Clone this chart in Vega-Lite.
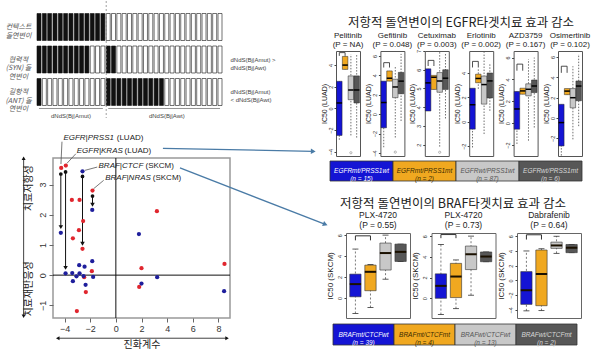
{
"$schema": "https://vega.github.io/schema/vega-lite/v6.json",
"background": "white",
"padding": {"left": 4, "top": 0, "right": 2, "bottom": 2},
"bounds": "flush",
"spacing": 293,
"resolve": {"scale": {"color": "independent", "fill": "independent"}},
"config": {
  "view": {"stroke": null},
  "font": "Liberation Sans",
  "axis": {"grid": false, "domain": false, "labelFont": "Liberation Sans", "titleFont": "Liberation Sans", "titleFontWeight": "normal", "labelColor": "#333", "tickColor": "#444", "titleColor": "#222", "labelOverlap": false, "labelFlush": false},
  "title": {"font": "Noto Sans CJK KR", "fontWeight": "normal", "fontSize": 12.5, "color": "#222"}
},
"datasets": {
  "cells": [
    {"r":"ctx","i":0,"s":"m"},{"r":"ctx","i":1,"s":"m"},{"r":"ctx","i":2,"s":"m"},{"r":"ctx","i":3,"s":"m"},{"r":"ctx","i":4,"s":"m"},{"r":"ctx","i":5,"s":"m"},{"r":"ctx","i":6,"s":"m"},{"r":"ctx","i":7,"s":"m"},{"r":"ctx","i":8,"s":"m"},{"r":"ctx","i":9,"s":"m"},{"r":"ctx","i":10,"s":"m"},{"r":"ctx","i":11,"s":"m"},{"r":"ctx","i":12,"s":"m"},
    {"r":"ctx","i":13,"s":"w"},{"r":"ctx","i":14,"s":"w"},{"r":"ctx","i":15,"s":"w"},{"r":"ctx","i":16,"s":"w"},{"r":"ctx","i":17,"s":"w"},{"r":"ctx","i":18,"s":"w"},{"r":"ctx","i":19,"s":"w"},{"r":"ctx","i":20,"s":"w"},{"r":"ctx","i":21,"s":"w"},{"r":"ctx","i":22,"s":"w"},{"r":"ctx","i":23,"s":"w"},{"r":"ctx","i":24,"s":"w"},{"r":"ctx","i":25,"s":"w"},{"r":"ctx","i":26,"s":"w"},{"r":"ctx","i":27,"s":"w"},{"r":"ctx","i":28,"s":"w"},{"r":"ctx","i":29,"s":"w"},{"r":"ctx","i":30,"s":"w"},{"r":"ctx","i":31,"s":"w"},{"r":"ctx","i":32,"s":"w"},{"r":"ctx","i":33,"s":"w"},{"r":"ctx","i":34,"s":"w"},
    {"r":"syn","i":0,"s":"m"},{"r":"syn","i":1,"s":"m"},{"r":"syn","i":2,"s":"m"},{"r":"syn","i":3,"s":"m"},{"r":"syn","i":4,"s":"m"},{"r":"syn","i":5,"s":"m"},{"r":"syn","i":6,"s":"m"},{"r":"syn","i":7,"s":"m"},{"r":"syn","i":8,"s":"m"},{"r":"syn","i":9,"s":"m"},
    {"r":"syn","i":10,"s":"w"},{"r":"syn","i":11,"s":"w"},{"r":"syn","i":12,"s":"w"},{"r":"syn","i":13,"s":"m"},{"r":"syn","i":14,"s":"m"},
    {"r":"syn","i":15,"s":"w"},{"r":"syn","i":16,"s":"w"},{"r":"syn","i":17,"s":"w"},{"r":"syn","i":18,"s":"w"},{"r":"syn","i":19,"s":"w"},{"r":"syn","i":20,"s":"w"},{"r":"syn","i":21,"s":"w"},{"r":"syn","i":22,"s":"w"},{"r":"syn","i":23,"s":"w"},{"r":"syn","i":24,"s":"w"},{"r":"syn","i":25,"s":"w"},{"r":"syn","i":26,"s":"w"},{"r":"syn","i":27,"s":"w"},{"r":"syn","i":28,"s":"w"},{"r":"syn","i":29,"s":"w"},{"r":"syn","i":30,"s":"w"},{"r":"syn","i":31,"s":"w"},{"r":"syn","i":32,"s":"w"},{"r":"syn","i":33,"s":"w"},{"r":"syn","i":34,"s":"w"},
    {"r":"ant","i":0,"s":"m"},{"r":"ant","i":1,"s":"w"},{"r":"ant","i":2,"s":"w"},{"r":"ant","i":3,"s":"w"},{"r":"ant","i":4,"s":"w"},{"r":"ant","i":5,"s":"w"},{"r":"ant","i":6,"s":"w"},{"r":"ant","i":7,"s":"w"},{"r":"ant","i":8,"s":"w"},{"r":"ant","i":9,"s":"w"},{"r":"ant","i":10,"s":"w"},{"r":"ant","i":11,"s":"w"},{"r":"ant","i":12,"s":"w"},
    {"r":"ant","i":13,"s":"m"},{"r":"ant","i":14,"s":"m"},{"r":"ant","i":15,"s":"m"},{"r":"ant","i":16,"s":"m"},{"r":"ant","i":17,"s":"m"},{"r":"ant","i":18,"s":"m"},{"r":"ant","i":19,"s":"m"},{"r":"ant","i":20,"s":"m"},{"r":"ant","i":21,"s":"m"},{"r":"ant","i":22,"s":"m"},{"r":"ant","i":23,"s":"m"},
    {"r":"ant","i":24,"s":"w"},{"r":"ant","i":25,"s":"w"},{"r":"ant","i":26,"s":"w"},{"r":"ant","i":27,"s":"w"},{"r":"ant","i":28,"s":"w"},{"r":"ant","i":29,"s":"w"},{"r":"ant","i":30,"s":"w"},{"r":"ant","i":31,"s":"w"},{"r":"ant","i":32,"s":"w"},{"r":"ant","i":33,"s":"w"},{"r":"ant","i":34,"s":"w"}
  ],
  "div": [{"i": 13}],
  "brace": [{"r":"ant","a":0,"b":12,"c":6,"lab":"dNdS(Bj|Amut)"},{"r":"ant","a":13,"b":34,"c":24,"lab":"dNdS(Bj|Awt)"}],
  "pts": [
    {"x":-4.26,"y":3.55,"c":"r"},{"x":-3.9,"y":3.63,"c":"r"},{"x":-3.43,"y":2.49,"c":"r"},{"x":-2.83,"y":2.49,"c":"r"},{"x":-3.35,"y":1.22,"c":"r"},{"x":-2.88,"y":1.49,"c":"r"},{"x":-2.55,"y":1.79,"c":"r"},{"x":-2.6,"y":0.87,"c":"r"},{"x":-1.82,"y":2.8,"c":"r"},{"x":-1.87,"y":0.13,"c":"r"},{"x":-2.47,"y":-0.07,"c":"r"},{"x":-2.34,"y":-0.56,"c":"r"},{"x":-3.04,"y":-1.19,"c":"r"},{"x":3.2,"y":2.12,"c":"r"},{"x":2.0,"y":0.23,"c":"r"},{"x":1.82,"y":-0.39,"c":"r"},{"x":8.47,"y":0.37,"c":"r"},
    {"x":-4.29,"y":1.4,"c":"b"},{"x":-3.92,"y":0.06,"c":"b"},{"x":-3.4,"y":0.07,"c":"b"},{"x":-3.35,"y":-0.2,"c":"b"},{"x":-3.07,"y":-0.04,"c":"b"},{"x":-2.86,"y":0.33,"c":"b"},{"x":-2.83,"y":0.06,"c":"b"},{"x":-2.44,"y":0.28,"c":"b"},{"x":-2.36,"y":-0.32,"c":"b"},{"x":-2.52,"y":-0.03,"c":"b"},{"x":-2.6,"y":3.44,"c":"b"},{"x":-1.84,"y":0.46,"c":"b"},{"x":-1.77,"y":-0.06,"c":"b"},{"x":-1.84,"y":2.16,"c":"b"},{"x":1.8,"y":1.36,"c":"b"},{"x":2.0,"y":-0.28,"c":"b"},{"x":3.22,"y":-0.07,"c":"b"},{"x":8.44,"y":-0.53,"c":"b"}
  ],
  "zero": [{"v": 0}],
  "varr": [{"x":-4.29,"t":3.35,"b":1.59},{"x":-3.92,"t":3.42,"b":0.24},{"x":-2.6,"t":3.27,"b":1.04},{"x":-1.82,"t":2.62,"b":2.33}],
  "ann": [
    {"g":"EGFR|PRSS1","t":"(LUAD)","gx":-4.09,"tx":0.07,"y":4.54,"lx1":-4.2,"ly1":4.42,"lx2":-4.28,"ly2":3.68},
    {"g":"EGFR|KRAS","t":"(LUAD)","gx":-3.05,"tx":0.68,"y":4.12,"lx1":-3.12,"ly1":4.02,"lx2":-3.82,"ly2":3.7},
    {"g":"BRAF|CTCF","t":"(SKCM)","gx":-1.35,"tx":2.31,"y":3.63,"lx1":-1.45,"ly1":3.58,"lx2":-2.42,"ly2":3.47},
    {"g":"BRAF|NRAS","t":"(SKCM)","gx":-0.83,"tx":2.88,"y":3.22,"lx1":-0.95,"ly1":3.14,"lx2":-1.74,"ly2":2.86}
  ],
  "blue": [{"id":1,"x1":3.67,"y1":4.2,"x2":15.39,"y2":4.1},{"id":2,"x1":5.0,"y1":3.55,"x2":16.33,"y2":1.68}],
  "guide": [{"k":"h","x1":-4.53,"y1":-2.09,"x2":8.67,"y2":-2.09},{"k":"v","x1":-7.19,"y1":-1.36,"x2":-7.19,"y2":3.87}],
  "ylab": [{"t":"치료저항성","x":-6.76,"y":2.88},{"t":"치료재반응성","x":-6.76,"y":-0.46}],
  "egfr": [
    {"k":"dom","drug":"Pelitinib|(P = NA)","y":-4.4},{"k":"dom","drug":"Pelitinib|(P = NA)","y":5.3},
    {"k":"box","drug":"Pelitinib|(P = NA)","g":"a","lo":-2.9,"q1":-2.5,"med":0.5,"q3":2.5,"hi":2.5},
    {"k":"box","drug":"Pelitinib|(P = NA)","g":"b","lo":3.6,"q1":3.6,"med":4.0,"q3":4.8,"hi":4.8},
    {"k":"box","drug":"Pelitinib|(P = NA)","g":"c","lo":-2.5,"q1":0.8,"med":1.7,"q3":3.0,"hi":5.0},
    {"k":"box","drug":"Pelitinib|(P = NA)","g":"d","lo":-2.7,"q1":0.5,"med":1.7,"q3":3.0,"hi":5.0},
    {"k":"out","drug":"Pelitinib|(P = NA)","g":"c","y":-4.1},
    {"k":"br","drug":"Pelitinib|(P = NA)","yt":5.15,"yl":4.85},
    {"k":"dom","drug":"Gefitinib|(P = 0.048)","y":-4.3},{"k":"dom","drug":"Gefitinib|(P = 0.048)","y":6.5},
    {"k":"box","drug":"Gefitinib|(P = 0.048)","g":"a","lo":-3.4,"q1":-1.4,"med":1.2,"q3":3.4,"hi":3.4},
    {"k":"box","drug":"Gefitinib|(P = 0.048)","g":"b","lo":3.4,"q1":3.4,"med":3.7,"q3":4.45,"hi":4.45},
    {"k":"box","drug":"Gefitinib|(P = 0.048)","g":"c","lo":-2.4,"q1":1.7,"med":2.8,"q3":3.6,"hi":5.0},
    {"k":"box","drug":"Gefitinib|(P = 0.048)","g":"d","lo":-0.7,"q1":2.1,"med":3.4,"q3":4.3,"hi":6.2},
    {"k":"out","drug":"Gefitinib|(P = 0.048)","g":"c","y":-3.9},
    {"k":"br","drug":"Gefitinib|(P = 0.048)","yt":5.3,"yl":4.8},
    {"k":"dom","drug":"Cetuximab|(P = 0.003)","y":1.4},{"k":"dom","drug":"Cetuximab|(P = 0.003)","y":7.0},
    {"k":"box","drug":"Cetuximab|(P = 0.003)","g":"a","lo":3.8,"q1":3.8,"med":5.3,"q3":6.05,"hi":6.05},
    {"k":"box","drug":"Cetuximab|(P = 0.003)","g":"b","lo":4.95,"q1":4.95,"med":5.6,"q3":5.7,"hi":5.7},
    {"k":"box","drug":"Cetuximab|(P = 0.003)","g":"c","lo":1.9,"q1":4.8,"med":5.4,"q3":5.85,"hi":6.95},
    {"k":"box","drug":"Cetuximab|(P = 0.003)","g":"d","lo":3.4,"q1":4.95,"med":5.55,"q3":6.0,"hi":6.9},
    {"k":"out","drug":"Cetuximab|(P = 0.003)","g":"c","y":1.6},
    {"k":"br","drug":"Cetuximab|(P = 0.003)","yt":6.5,"yl":6.2},
    {"k":"dom","drug":"Erlotinib|(P = 0.002)","y":-2.8},{"k":"dom","drug":"Erlotinib|(P = 0.002)","y":5.8},
    {"k":"box","drug":"Erlotinib|(P = 0.002)","g":"a","lo":-2.1,"q1":-0.6,"med":1.4,"q3":2.75,"hi":2.75},
    {"k":"box","drug":"Erlotinib|(P = 0.002)","g":"b","lo":2.7,"q1":3.2,"med":3.55,"q3":3.9,"hi":4.4},
    {"k":"box","drug":"Erlotinib|(P = 0.002)","g":"c","lo":-1.0,"q1":1.45,"med":3.05,"q3":3.75,"hi":5.7},
    {"k":"box","drug":"Erlotinib|(P = 0.002)","g":"d","lo":0.9,"q1":1.95,"med":3.35,"q3":4.0,"hi":4.8},
    {"k":"br","drug":"Erlotinib|(P = 0.002)","yt":4.95,"yl":4.45},
    {"k":"dom","drug":"AZD3759|(P = 0.167)","y":-3.0},{"k":"dom","drug":"AZD3759|(P = 0.167)","y":6.6},
    {"k":"box","drug":"AZD3759|(P = 0.167)","g":"a","lo":-1.9,"q1":-0.55,"med":1.3,"q3":2.9,"hi":2.9},
    {"k":"box","drug":"AZD3759|(P = 0.167)","g":"b","lo":2.65,"q1":2.65,"med":2.95,"q3":3.2,"hi":3.2},
    {"k":"box","drug":"AZD3759|(P = 0.167)","g":"c","lo":-1.6,"q1":2.5,"med":3.1,"q3":3.6,"hi":5.85},
    {"k":"box","drug":"AZD3759|(P = 0.167)","g":"d","lo":-0.4,"q1":2.8,"med":3.4,"q3":3.95,"hi":6.0},
    {"k":"br","drug":"AZD3759|(P = 0.167)","yt":5.4,"yl":4.8},
    {"k":"dom","drug":"Osimertinib|(P = 0.102)","y":-3.74},{"k":"dom","drug":"Osimertinib|(P = 0.102)","y":6.6},
    {"k":"box","drug":"Osimertinib|(P = 0.102)","g":"a","lo":-3.7,"q1":-2.75,"med":-0.45,"q3":1.35,"hi":1.35},
    {"k":"box","drug":"Osimertinib|(P = 0.102)","g":"b","lo":2.3,"q1":2.3,"med":2.65,"q3":2.9,"hi":2.9},
    {"k":"box","drug":"Osimertinib|(P = 0.102)","g":"c","lo":-2.1,"q1":1.0,"med":2.0,"q3":2.9,"hi":5.1},
    {"k":"box","drug":"Osimertinib|(P = 0.102)","g":"d","lo":-0.8,"q1":1.7,"med":3.15,"q3":3.65,"hi":6.3},
    {"k":"br","drug":"Osimertinib|(P = 0.102)","yt":5.1,"yl":4.45}
  ],
  "braf": [
    {"k":"dom","drug":"PLX-4720|(P = 0.55)","y":-1.9},{"k":"dom","drug":"PLX-4720|(P = 0.55)","y":6.2},
    {"k":"box","drug":"PLX-4720|(P = 0.55)","g":"a","lo":-1.47,"q1":0.12,"med":1.33,"q3":2.28,"hi":4.67},
    {"k":"box","drug":"PLX-4720|(P = 0.55)","g":"b","lo":-0.9,"q1":0.7,"med":2.5,"q3":3.14,"hi":3.2},
    {"k":"box","drug":"PLX-4720|(P = 0.55)","g":"c","lo":1.8,"q1":2.67,"med":4.29,"q3":5.24,"hi":6.0},
    {"k":"box","drug":"PLX-4720|(P = 0.55)","g":"d","lo":3.49,"q1":3.49,"med":4.4,"q3":5.14,"hi":5.14},
    {"k":"br","drug":"PLX-4720|(P = 0.55)","yt":5.93,"yl":5.5},
    {"k":"dom","drug":"PLX-4720|(P = 0.73)","y":-1.9},{"k":"dom","drug":"PLX-4720|(P = 0.73)","y":6.3},
    {"k":"box","drug":"PLX-4720|(P = 0.73)","g":"a","lo":-1.57,"q1":0.0,"med":1.2,"q3":2.36,"hi":5.2},
    {"k":"box","drug":"PLX-4720|(P = 0.73)","g":"b","lo":-1.0,"q1":0.07,"med":2.1,"q3":3.37,"hi":3.7},
    {"k":"box","drug":"PLX-4720|(P = 0.73)","g":"c","lo":0.3,"q1":2.77,"med":4.25,"q3":5.04,"hi":6.0},
    {"k":"box","drug":"PLX-4720|(P = 0.73)","g":"d","lo":3.53,"q1":3.53,"med":4.03,"q3":4.47,"hi":4.47},
    {"k":"br","drug":"PLX-4720|(P = 0.73)","yt":6.15,"yl":5.8},
    {"k":"dom","drug":"Dabrafenib|(P = 0.64)","y":-5.1},{"k":"dom","drug":"Dabrafenib|(P = 0.64)","y":6.44},
    {"k":"box","drug":"Dabrafenib|(P = 0.64)","g":"a","lo":-4.13,"q1":-3.25,"med":-1.33,"q3":1.2,"hi":4.0},
    {"k":"box","drug":"Dabrafenib|(P = 0.64)","g":"b","lo":-4.1,"q1":-3.43,"med":0.88,"q3":4.13,"hi":4.3},
    {"k":"box","drug":"Dabrafenib|(P = 0.64)","g":"c","lo":3.68,"q1":4.35,"med":4.75,"q3":5.2,"hi":6.0},
    {"k":"box","drug":"Dabrafenib|(P = 0.64)","g":"d","lo":3.77,"q1":3.77,"med":4.44,"q3":4.88,"hi":4.88},
    {"k":"br","drug":"Dabrafenib|(P = 0.64)","yt":6.2,"yl":5.55}
  ],
  "egfrleg": [{"g":"a","lab":"EGFRmt/PRSS1wt|(n = 15)"},{"g":"b","lab":"EGFRmt/PRSS1mt|(n = 2)"},{"g":"c","lab":"EGFRwt/PRSS1wt|(n = 87)"},{"g":"d","lab":"EGFRwt/PRSS1mt|(n = 6)"}],
  "brafleg": [{"g":"a","lab":"BRAFmt/CTCFwt|(n = 39)"},{"g":"b","lab":"BRAFmt/CTCFmt|(n = 4)"},{"g":"c","lab":"BRAFwt/CTCFwt|(n = 13)"},{"g":"d","lab":"BRAFwt/CTCFmt|(n = 2)"}],
  "blank": [{}]
},
"hconcat": [
  {
    "bounds": "flush",
    "spacing": 40,
    "resolve": {"scale": {"color": "independent", "fill": "independent"}},
    "vconcat": [
      {
        "width": 185, "height": 117,
        "resolve": {"axis": {"y": "independent"}},
        "layer": [
          {"data": {"name": "cells"}, "mark": {"type": "rect", "stroke": "#111", "strokeWidth": 0.6},
           "encoding": {
             "x": {"field": "i", "type": "ordinal", "scale": {"domain": [0,1,2,3,4,5,6,7,8,9,10,11,12,13,14,15,16,17,18,19,20,21,22,23,24,25,26,27,28,29,30,31,32,33,34], "paddingInner": 0.25, "paddingOuter": 0}, "axis": null},
             "y": {"field": "r", "type": "nominal", "scale": {"domain": ["ctx","syn","ant"], "paddingInner": 0.17, "paddingOuter": 0.385},
                   "axis": {"orient": "left", "ticks": false, "domain": false, "title": null, "labelExpr": "datum.value == 'ctx' ? ['컨텍스트', '돌연변이'] : datum.value == 'syn' ? ['협력적', '(SYN) 돌', '연변이'] : ['길항적', '(ANT) 돌', '연변이']", "labelAlign": "center", "labelBaseline": "middle", "labelPadding": 19, "labelFontSize": 7, "labelFont": "Noto Sans CJK KR", "labelFontStyle": "italic", "labelColor": "#555", "labelLineHeight": 8.5}},
             "fill": {"field": "s", "type": "nominal", "scale": {"domain": ["m","w"], "range": ["#111111","#ffffff"]}, "legend": null}
           }},
          {"data": {"name": "div"}, "mark": {"type": "rule", "color": "#888", "strokeDash": [2,2], "strokeWidth": 0.8},
           "encoding": {"x": {"field": "i", "type": "ordinal", "bandPosition": 0}}},
          {"data": {"name": "brace"}, "mark": {"type": "rule", "color": "#777", "strokeWidth": 0.8, "yOffset": 3},
           "encoding": {"x": {"field": "a", "type": "ordinal"}, "x2": {"field": "b"}, "y": {"field": "r", "type": "nominal", "bandPosition": 1, "axis": null}}},
          {"data": {"name": "brace"}, "mark": {"type": "text", "fontSize": 6, "color": "#444", "yOffset": 11},
           "encoding": {"x": {"field": "c", "type": "ordinal"},
             "y": {"field": "r", "type": "nominal", "bandPosition": 1,
                   "axis": {"orient": "right", "ticks": false, "domain": false, "title": null, "labelExpr": "datum.value == 'syn' ? ['dNdS(Bj|Amut) >', 'dNdS(Bj|Awt)'] : datum.value == 'ant' ? ['dNdS(Bj|Amut)', '< dNdS(Bj|Awt)'] : ''", "labelAlign": "left", "labelBaseline": "middle", "labelPadding": 8, "labelFontSize": 6, "labelColor": "#444", "labelLineHeight": 8}},
             "text": {"field": "lab"}}}
        ]
      },
      {
        "bounds": "flush",
        "spacing": 0,
        "resolve": {"scale": {"color": "independent", "fill": "independent"}},
        "hconcat": [
          {"data": {"name": "blank"}, "mark": {"type": "point", "opacity": 0}, "width": 16, "height": 160},
          {
            "width": 177, "height": 160,
            "view": {"stroke": "#999", "strokeWidth": 1.5},
            "resolve": {"axis": {"x": "independent", "y": "independent"}},
            "layer": [
              {"data": {"name": "zero"}, "mark": {"type": "rule", "color": "#111"},
               "encoding": {"y": {"field": "v", "type": "quantitative", "scale": {"domain": [-1.42, 3.88], "nice": false, "zero": false}, "axis": null}}},
              {"data": {"name": "zero"}, "mark": {"type": "rule", "color": "#111"},
               "encoding": {"x": {"field": "v", "type": "quantitative", "scale": {"domain": [-4.9, 8.9], "nice": false, "zero": false}, "axis": null}}},
              {"data": {"name": "varr"}, "mark": {"type": "rule", "color": "#111", "strokeWidth": 1},
               "encoding": {"x": {"field": "x", "type": "quantitative", "scale": {"domain": [-4.9, 8.9], "nice": false, "zero": false}, "axis": null},
                            "y": {"field": "t", "type": "quantitative", "scale": {"domain": [-1.42, 3.88], "nice": false, "zero": false}, "axis": null}, "y2": {"field": "b"}}},
              {"data": {"name": "ann"}, "mark": {"type": "rule", "color": "#555", "strokeWidth": 0.8},
               "encoding": {"x": {"field": "lx1", "type": "quantitative", "scale": {"domain": [-4.9, 8.9], "nice": false, "zero": false}, "axis": null}, "x2": {"field": "lx2"},
                            "y": {"field": "ly1", "type": "quantitative", "scale": {"domain": [-1.42, 3.88], "nice": false, "zero": false}, "axis": null}, "y2": {"field": "ly2"}}},
              {"data": {"name": "blue"}, "mark": {"type": "rule", "color": "#4a7ba6", "strokeWidth": 1.3},
               "encoding": {"x": {"field": "x1", "type": "quantitative", "scale": {"domain": [-4.9, 8.9], "nice": false, "zero": false}, "axis": null}, "x2": {"field": "x2"},
                            "y": {"field": "y1", "type": "quantitative", "scale": {"domain": [-1.42, 3.88], "nice": false, "zero": false}, "axis": null}, "y2": {"field": "y2"}}},
              {"data": {"name": "guide"}, "mark": {"type": "rule", "color": "#111", "strokeWidth": 0.8},
               "encoding": {"x": {"field": "x1", "type": "quantitative", "scale": {"domain": [-4.9, 8.9], "nice": false, "zero": false}, "axis": null}, "x2": {"field": "x2"},
                            "y": {"field": "y1", "type": "quantitative", "scale": {"domain": [-1.42, 3.88], "nice": false, "zero": false}, "axis": null}, "y2": {"field": "y2"}}},
              {"data": {"name": "pts"}, "mark": {"type": "point", "filled": true, "size": 18, "opacity": 1},
               "encoding": {
                 "x": {"field": "x", "type": "quantitative", "scale": {"domain": [-4.9, 8.9], "nice": false, "zero": false},
                       "axis": {"values": [-4,-2,0,2,4,6,8], "title": "진화계수", "titleFont": "Noto Sans CJK KR", "titleFontSize": 10, "titlePadding": 6, "labelFontSize": 9, "tickSize": 4, "labelPadding": 2, "tickColor": "#666"}},
                 "y": {"field": "y", "type": "quantitative", "scale": {"domain": [-1.42, 3.88], "nice": false, "zero": false},
                       "axis": {"values": [-1,0,1,2,3], "title": null, "labelAngle": 270, "labelAlign": "center", "labelBaseline": "bottom", "labelFontSize": 9, "tickSize": 4, "labelPadding": 2, "tickColor": "#666"}},
                 "color": {"field": "c", "type": "nominal", "scale": {"domain": ["r","b"], "range": ["#e0262e","#1e1e9c"]}, "legend": null}
               }},
              {"data": {"name": "varr"}, "mark": {"type": "point", "filled": true, "size": 14, "color": "#111", "opacity": 1},
               "encoding": {"x": {"field": "x", "type": "quantitative", "scale": {"domain": [-4.9, 8.9], "nice": false, "zero": false}, "axis": null},
                            "y": {"field": "t", "type": "quantitative", "scale": {"domain": [-1.42, 3.88], "nice": false, "zero": false}, "axis": null}}},
              {"data": {"name": "varr"}, "mark": {"type": "point", "filled": true, "size": 20, "shape": "triangle-down", "color": "#111", "opacity": 1},
               "encoding": {"x": {"field": "x", "type": "quantitative", "scale": {"domain": [-4.9, 8.9], "nice": false, "zero": false}, "axis": null},
                            "y": {"field": "b", "type": "quantitative", "scale": {"domain": [-1.42, 3.88], "nice": false, "zero": false}, "axis": null}}},
              {"data": {"name": "ann"}, "mark": {"type": "text", "align": "left", "baseline": "middle", "fontSize": 8, "fontStyle": "italic", "color": "#222"},
               "encoding": {"x": {"field": "gx", "type": "quantitative", "scale": {"domain": [-4.9, 8.9], "nice": false, "zero": false}, "axis": null},
                            "y": {"field": "y", "type": "quantitative", "scale": {"domain": [-1.42, 3.88], "nice": false, "zero": false}, "axis": null}, "text": {"field": "g"}}},
              {"data": {"name": "ann"}, "mark": {"type": "text", "align": "left", "baseline": "middle", "fontSize": 8, "color": "#222"},
               "encoding": {"x": {"field": "tx", "type": "quantitative", "scale": {"domain": [-4.9, 8.9], "nice": false, "zero": false}, "axis": null},
                            "y": {"field": "y", "type": "quantitative", "scale": {"domain": [-1.42, 3.88], "nice": false, "zero": false}, "axis": null}, "text": {"field": "t"}}},
              {"data": {"name": "blue"}, "transform": [{"filter": "datum.id == 1"}], "mark": {"type": "point", "filled": true, "size": 30, "shape": "triangle-right", "angle": 1, "color": "#4a7ba6", "opacity": 1},
               "encoding": {"x": {"field": "x2", "type": "quantitative", "scale": {"domain": [-4.9, 8.9], "nice": false, "zero": false}, "axis": null},
                            "y": {"field": "y2", "type": "quantitative", "scale": {"domain": [-1.42, 3.88], "nice": false, "zero": false}, "axis": null}}},
              {"data": {"name": "blue"}, "transform": [{"filter": "datum.id == 2"}], "mark": {"type": "point", "filled": true, "size": 30, "shape": "triangle-right", "angle": 21, "color": "#4a7ba6", "opacity": 1},
               "encoding": {"x": {"field": "x2", "type": "quantitative", "scale": {"domain": [-4.9, 8.9], "nice": false, "zero": false}, "axis": null},
                            "y": {"field": "y2", "type": "quantitative", "scale": {"domain": [-1.42, 3.88], "nice": false, "zero": false}, "axis": null}}},
              {"data": {"name": "guide"}, "transform": [{"filter": "datum.k == 'h'"}], "mark": {"type": "point", "filled": true, "size": 16, "shape": "triangle-left", "color": "#111", "opacity": 1},
               "encoding": {"x": {"field": "x1", "type": "quantitative", "scale": {"domain": [-4.9, 8.9], "nice": false, "zero": false}, "axis": null},
                            "y": {"field": "y1", "type": "quantitative", "scale": {"domain": [-1.42, 3.88], "nice": false, "zero": false}, "axis": null}}},
              {"data": {"name": "guide"}, "transform": [{"filter": "datum.k == 'h'"}], "mark": {"type": "point", "filled": true, "size": 16, "shape": "triangle-right", "color": "#111", "opacity": 1},
               "encoding": {"x": {"field": "x2", "type": "quantitative", "scale": {"domain": [-4.9, 8.9], "nice": false, "zero": false}, "axis": null},
                            "y": {"field": "y2", "type": "quantitative", "scale": {"domain": [-1.42, 3.88], "nice": false, "zero": false}, "axis": null}}},
              {"data": {"name": "guide"}, "transform": [{"filter": "datum.k == 'v'"}], "mark": {"type": "point", "filled": true, "size": 16, "shape": "triangle-down", "color": "#111", "opacity": 1},
               "encoding": {"x": {"field": "x1", "type": "quantitative", "scale": {"domain": [-4.9, 8.9], "nice": false, "zero": false}, "axis": null},
                            "y": {"field": "y1", "type": "quantitative", "scale": {"domain": [-1.42, 3.88], "nice": false, "zero": false}, "axis": null}}},
              {"data": {"name": "guide"}, "transform": [{"filter": "datum.k == 'v'"}], "mark": {"type": "point", "filled": true, "size": 16, "shape": "triangle-up", "color": "#111", "opacity": 1},
               "encoding": {"x": {"field": "x2", "type": "quantitative", "scale": {"domain": [-4.9, 8.9], "nice": false, "zero": false}, "axis": null},
                            "y": {"field": "y2", "type": "quantitative", "scale": {"domain": [-1.42, 3.88], "nice": false, "zero": false}, "axis": null}}},
              {"data": {"name": "ylab"}, "mark": {"type": "text", "angle": 270, "fontSize": 10, "font": "Noto Sans CJK KR", "color": "#222", "baseline": "middle", "align": "center"},
               "encoding": {"x": {"field": "x", "type": "quantitative", "scale": {"domain": [-4.9, 8.9], "nice": false, "zero": false}, "axis": null},
                            "y": {"field": "y", "type": "quantitative", "scale": {"domain": [-1.42, 3.88], "nice": false, "zero": false}, "axis": null}, "text": {"field": "t"}}}
            ]
          }
        ]
      }
    ]
  },
  {
    "bounds": "flush",
    "spacing": 5,
    "resolve": {"scale": {"color": "independent", "fill": "independent"}},
    "vconcat": [
      {"data": {"name": "blank"}, "mark": {"type": "point", "opacity": 0}, "width": 1, "height": 45},
      {
        "bounds": "flush", "spacing": 0,
        "resolve": {"scale": {"color": "independent", "fill": "independent"}},
        "hconcat": [
          {"data": {"name": "blank"}, "mark": {"type": "point", "opacity": 0}, "width": 6, "height": 1},
          {
            "data": {"name": "egfr"},
            "title": {"text": "저항적 돌연변이의 EGFR타겟치료 효과 감소", "frame": "group", "anchor": "middle", "offset": 3, "dx": 125},
            "facet": {"column": {"field": "drug", "type": "nominal", "sort": ["Pelitinib|(P = NA)", "Gefitinib|(P = 0.048)", "Cetuximab|(P = 0.003)", "Erlotinib|(P = 0.002)", "AZD3759|(P = 0.167)", "Osimertinib|(P = 0.102)"],
                      "header": {"title": null, "labelExpr": "split(datum.label, '|')", "labelFontSize": 8, "labelPadding": 2, "labelColor": "#222", "labelLineHeight": 9, "labelFont": "Liberation Sans"}}},
            "spacing": 20.4,
            "bounds": "flush",
            "resolve": {"scale": {"y": "independent"}},
            "spec": {
              "width": 24, "height": 105,
              "view": {"stroke": "#555", "strokeWidth": 1},
              "resolve": {"axis": {"y": "independent"}},
              "layer": [
                {"transform": [{"filter": "datum.k == 'dom'"}], "mark": {"type": "point", "opacity": 0},
                 "encoding": {"y": {"field": "y", "type": "quantitative", "scale": {"zero": false, "nice": false},
                   "axis": {"title": "IC50 (LUAD)", "tickCount": 5, "labelAngle": 270, "labelAlign": "center", "labelBaseline": "bottom", "labelFontSize": 5.5, "tickSize": 2, "labelPadding": 1, "titleFontSize": 7, "titlePadding": 1}}}},
                {"transform": [{"filter": "datum.k == 'box'"}], "mark": {"type": "rule", "strokeDash": [1.5,1.5], "color": "#333", "strokeWidth": 0.7},
                 "encoding": {"x": {"field": "g", "type": "nominal", "scale": {"domain": ["a","b","c","d"], "paddingInner": 0.05, "paddingOuter": 0.1}, "axis": null},
                              "y": {"field": "lo", "type": "quantitative", "scale": {"zero": false, "nice": false}, "axis": null}, "y2": {"field": "hi"}}},
                {"transform": [{"filter": "datum.k == 'box'"}], "mark": {"type": "bar", "stroke": "#222", "strokeWidth": 0.5},
                 "encoding": {"x": {"field": "g", "type": "nominal", "axis": null},
                              "y": {"field": "q1", "type": "quantitative", "scale": {"zero": false, "nice": false}, "axis": null}, "y2": {"field": "q3"},
                              "color": {"field": "g", "type": "nominal", "scale": {"domain": ["a","b","c","d"], "range": ["#1414d4","#f0a820","#c8c8c8","#575757"]}, "legend": null}}},
                {"transform": [{"filter": "datum.k == 'box'"}], "mark": {"type": "tick", "color": "#000", "thickness": 1.5, "size": 5.5, "opacity": 1},
                 "encoding": {"x": {"field": "g", "type": "nominal", "axis": null},
                              "y": {"field": "med", "type": "quantitative", "scale": {"zero": false, "nice": false}, "axis": null}}},
                {"transform": [{"filter": "datum.k == 'out'"}], "mark": {"type": "point", "size": 5, "color": "#555", "strokeWidth": 0.6},
                 "encoding": {"x": {"field": "g", "type": "nominal", "axis": null},
                              "y": {"field": "y", "type": "quantitative", "scale": {"zero": false, "nice": false}, "axis": null}}},
                {"transform": [{"filter": "datum.k == 'br'"}], "mark": {"type": "rule", "color": "#222", "strokeWidth": 0.8},
                 "encoding": {"x": {"datum": "a", "type": "nominal", "axis": null}, "x2": {"datum": "b"},
                              "y": {"field": "yt", "type": "quantitative", "scale": {"zero": false, "nice": false}, "axis": null}}},
                {"transform": [{"filter": "datum.k == 'br'"}], "mark": {"type": "rule", "color": "#222", "strokeWidth": 0.8},
                 "encoding": {"x": {"datum": "a", "type": "nominal", "axis": null},
                              "y": {"field": "yt", "type": "quantitative", "scale": {"zero": false, "nice": false}, "axis": null}, "y2": {"field": "yl"}}},
                {"transform": [{"filter": "datum.k == 'br'"}], "mark": {"type": "rule", "color": "#222", "strokeWidth": 0.8},
                 "encoding": {"x": {"datum": "b", "type": "nominal", "axis": null},
                              "y": {"field": "yt", "type": "quantitative", "scale": {"zero": false, "nice": false}, "axis": null}, "y2": {"field": "yl"}}}
              ]
            }
          }
        ]
      },
      {"data": {"name": "blank"}, "mark": {"type": "point", "opacity": 0}, "width": 1, "height": 100},
      {
        "data": {"name": "egfrleg"},
        "width": 252, "height": 20,
        "layer": [
          {"mark": {"type": "rect", "stroke": "#333", "strokeWidth": 0.8},
           "encoding": {"x": {"field": "g", "type": "nominal", "scale": {"paddingInner": 0, "paddingOuter": 0}, "axis": null},
                        "fill": {"field": "g", "type": "nominal", "scale": {"domain": ["a","b","c","d"], "range": ["#1414d4","#f0a820","#c8c8c8","#575757"]}, "legend": null}}},
          {"mark": {"type": "text", "lineBreak": "|", "fontSize": 6.5, "fontStyle": "italic", "lineHeight": 8},
           "encoding": {"x": {"field": "g", "type": "nominal", "axis": null}, "text": {"field": "lab"},
                        "color": {"field": "g", "type": "nominal", "scale": {"domain": ["a","b","c","d"], "range": ["#ffffff","#3a2a00","#555555","#d8d8d8"]}, "legend": null}}}
        ]
      },
      {"data": {"name": "blank"}, "mark": {"type": "point", "opacity": 0}, "width": 1, "height": 42},
      {
        "bounds": "flush", "spacing": 0,
        "resolve": {"scale": {"color": "independent", "fill": "independent"}},
        "hconcat": [
          {"data": {"name": "blank"}, "mark": {"type": "point", "opacity": 0}, "width": 16, "height": 1},
          {
            "data": {"name": "braf"},
            "title": {"text": "저항적 돌연변이의 BRAF타겟치료 효과 감소", "frame": "group", "anchor": "middle", "offset": 1, "dx": 107},
            "facet": {"column": {"field": "drug", "type": "nominal", "sort": ["PLX-4720|(P = 0.55)", "PLX-4720|(P = 0.73)", "Dabrafenib|(P = 0.64)"],
                      "header": {"title": null, "labelExpr": "split(datum.label, '|')", "labelFontSize": 8.5, "labelPadding": 4, "labelColor": "#222", "labelLineHeight": 9.5, "labelFont": "Liberation Sans"}}},
            "spacing": 21.5,
            "bounds": "flush",
            "resolve": {"scale": {"y": "independent"}},
            "spec": {
              "width": 64, "height": 85,
              "view": {"stroke": "#666", "strokeWidth": 1},
              "resolve": {"axis": {"y": "independent"}},
              "layer": [
                {"transform": [{"filter": "datum.k == 'dom'"}], "mark": {"type": "point", "opacity": 0},
                 "encoding": {"y": {"field": "y", "type": "quantitative", "scale": {"zero": false, "nice": false},
                   "axis": {"title": "IC50 (SKCM)", "tickCount": 5, "labelAngle": 270, "labelAlign": "center", "labelBaseline": "bottom", "labelFontSize": 5.5, "tickSize": 2, "labelPadding": 2, "titleFontSize": 8, "titlePadding": 3}}}},
                {"transform": [{"filter": "datum.k == 'box'"}], "mark": {"type": "rule", "strokeDash": [2,2], "color": "#444", "strokeWidth": 0.7},
                 "encoding": {"x": {"field": "g", "type": "nominal", "scale": {"domain": ["a","b","c","d"], "paddingInner": 0.25, "paddingOuter": 0.25}, "axis": null},
                              "y": {"field": "lo", "type": "quantitative", "scale": {"zero": false, "nice": false}, "axis": null}, "y2": {"field": "hi"}}},
                {"transform": [{"filter": "datum.k == 'box'"}], "mark": {"type": "tick", "color": "#333", "thickness": 0.8, "size": 6, "opacity": 1},
                 "encoding": {"x": {"field": "g", "type": "nominal", "axis": null},
                              "y": {"field": "lo", "type": "quantitative", "scale": {"zero": false, "nice": false}, "axis": null}}},
                {"transform": [{"filter": "datum.k == 'box'"}], "mark": {"type": "tick", "color": "#333", "thickness": 0.8, "size": 6, "opacity": 1},
                 "encoding": {"x": {"field": "g", "type": "nominal", "axis": null},
                              "y": {"field": "hi", "type": "quantitative", "scale": {"zero": false, "nice": false}, "axis": null}}},
                {"transform": [{"filter": "datum.k == 'box'"}], "mark": {"type": "bar", "stroke": "#333", "strokeWidth": 0.6},
                 "encoding": {"x": {"field": "g", "type": "nominal", "axis": null},
                              "y": {"field": "q1", "type": "quantitative", "scale": {"zero": false, "nice": false}, "axis": null}, "y2": {"field": "q3"},
                              "color": {"field": "g", "type": "nominal", "scale": {"domain": ["a","b","c","d"], "range": ["#1414d4","#f0a820","#c8c8c8","#575757"]}, "legend": null}}},
                {"transform": [{"filter": "datum.k == 'box'"}], "mark": {"type": "tick", "color": "#1a1000", "thickness": 2, "size": 11.3, "opacity": 1},
                 "encoding": {"x": {"field": "g", "type": "nominal", "axis": null},
                              "y": {"field": "med", "type": "quantitative", "scale": {"zero": false, "nice": false}, "axis": null}}},
                {"transform": [{"filter": "datum.k == 'br'"}], "mark": {"type": "rule", "color": "#333", "strokeWidth": 1},
                 "encoding": {"x": {"datum": "a", "type": "nominal", "axis": null}, "x2": {"datum": "b"},
                              "y": {"field": "yt", "type": "quantitative", "scale": {"zero": false, "nice": false}, "axis": null}}},
                {"transform": [{"filter": "datum.k == 'br'"}], "mark": {"type": "rule", "color": "#333", "strokeWidth": 1},
                 "encoding": {"x": {"datum": "a", "type": "nominal", "axis": null},
                              "y": {"field": "yt", "type": "quantitative", "scale": {"zero": false, "nice": false}, "axis": null}, "y2": {"field": "yl"}}},
                {"transform": [{"filter": "datum.k == 'br'"}], "mark": {"type": "rule", "color": "#333", "strokeWidth": 1},
                 "encoding": {"x": {"datum": "b", "type": "nominal", "axis": null},
                              "y": {"field": "yt", "type": "quantitative", "scale": {"zero": false, "nice": false}, "axis": null}, "y2": {"field": "yl"}}}
              ]
            }
          }
        ]
      },
      {"data": {"name": "blank"}, "mark": {"type": "point", "opacity": 0}, "width": 1, "height": 81},
      {
        "bounds": "flush", "spacing": 0,
        "resolve": {"scale": {"color": "independent", "fill": "independent"}},
        "hconcat": [
          {"data": {"name": "blank"}, "mark": {"type": "point", "opacity": 0}, "width": 3, "height": 1},
          {
            "data": {"name": "brafleg"},
            "width": 244, "height": 21,
            "layer": [
              {"mark": {"type": "rect", "stroke": "#333", "strokeWidth": 0.8},
               "encoding": {"x": {"field": "g", "type": "nominal", "scale": {"paddingInner": 0, "paddingOuter": 0}, "axis": null},
                            "fill": {"field": "g", "type": "nominal", "scale": {"domain": ["a","b","c","d"], "range": ["#1414d4","#f0a820","#c8c8c8","#575757"]}, "legend": null}}},
              {"mark": {"type": "text", "lineBreak": "|", "fontSize": 6.5, "fontStyle": "italic", "lineHeight": 8},
               "encoding": {"x": {"field": "g", "type": "nominal", "axis": null}, "text": {"field": "lab"},
                            "color": {"field": "g", "type": "nominal", "scale": {"domain": ["a","b","c","d"], "range": ["#ffffff","#3a2a00","#555555","#d8d8d8"]}, "legend": null}}}
            ]
          }
        ]
      }
    ]
  }
]
}
